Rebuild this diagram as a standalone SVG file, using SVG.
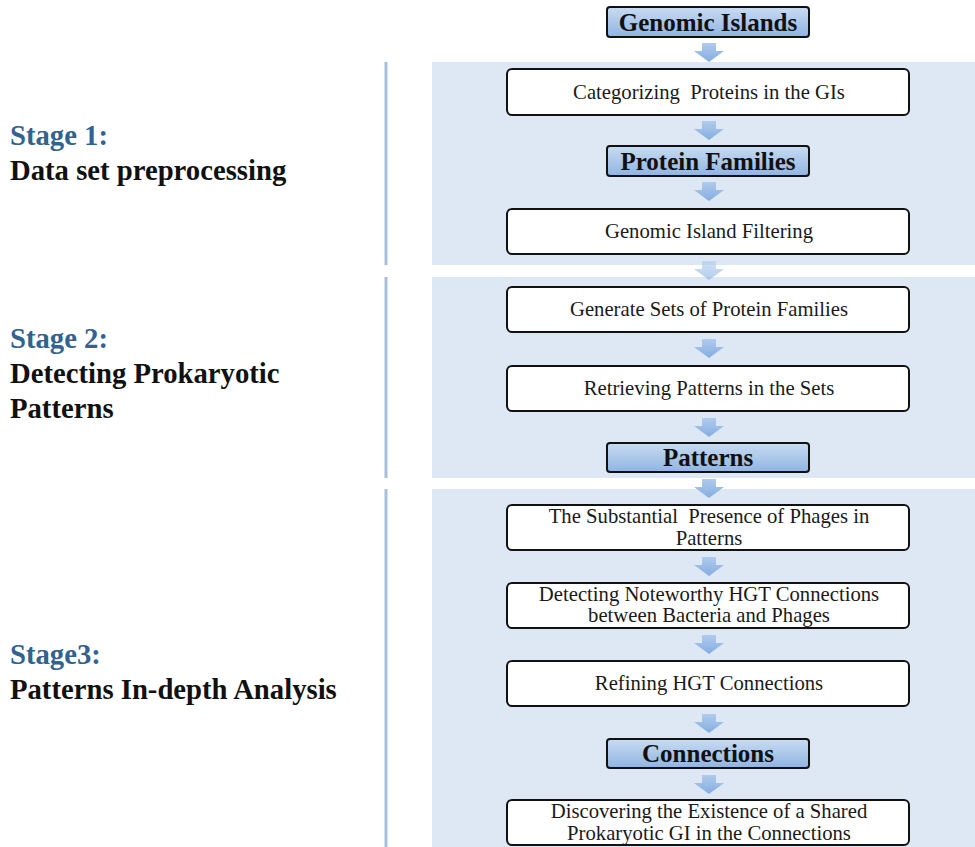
<svg xmlns="http://www.w3.org/2000/svg" width="975" height="847" viewBox="0 0 975 847">
<defs>
<linearGradient id="gB" x1="0" y1="0" x2="0" y2="1">
<stop offset="0" stop-color="#c9dcf2"/>
<stop offset="1" stop-color="#8fb4e2"/>
</linearGradient>
<linearGradient id="gA" x1="0" y1="0" x2="0" y2="1">
<stop offset="0" stop-color="#b0cbee"/>
<stop offset="1" stop-color="#84ade0"/>
</linearGradient>
<path id="arr" d="M-7,0 H7 V8 H15 L0,19 L-15,8 H-7 Z"/>
</defs>
<style>
.panel{fill:#dde8f4}
.vline{stroke:#a8bfdc;stroke-width:3}
.box{fill:#fff;stroke:#111;stroke-width:2}
.hbox{fill:url(#gB);stroke:#111;stroke-width:2}
.t{font-family:"Liberation Serif","Times New Roman",serif;font-size:20.7px;fill:#1a1a1a;text-anchor:middle;white-space:pre}
.ht{font-family:"Liberation Serif","Times New Roman",serif;font-size:25px;font-weight:bold;fill:#111;text-anchor:middle}
.st{font-family:"Liberation Serif","Times New Roman",serif;font-size:28.7px;font-weight:bold;fill:#33628f}
.sd{font-family:"Liberation Serif","Times New Roman",serif;font-size:28.7px;font-weight:bold;fill:#111}
.a{fill:url(#gA)}
</style>
<rect width="975" height="847" fill="#fff"/>
<g id="panels">
<rect class="panel" x="432" y="62" width="543" height="203"/>
<rect class="panel" x="432" y="277" width="543" height="201"/>
<rect class="panel" x="432" y="489" width="543" height="358"/>
<line class="vline" x1="386" y1="62" x2="386" y2="265"/>
<line class="vline" x1="386" y1="277" x2="386" y2="478"/>
<line class="vline" x1="386" y1="489" x2="386" y2="847"/>
</g>
<g id="stages">
<text class="st" x="10" y="145">Stage 1:</text>
<text class="sd" x="10" y="180">Data set preprocessing</text>
<text class="st" x="10" y="348">Stage 2:</text>
<text class="sd" x="10" y="383">Detecting Prokaryotic</text>
<text class="sd" x="10" y="418">Patterns</text>
<text class="st" x="10" y="664">Stage3:</text>
<text class="sd" x="10" y="699">Patterns In-depth Analysis</text>
</g>
<g id="connectors">
<use href="#arr" class="a" x="709" y="43"/>
<use href="#arr" class="a" x="709" y="121"/>
<use href="#arr" class="a" x="709" y="182"/>
<use href="#arr" class="a" x="709" y="261" opacity="0.6"/>
<use href="#arr" class="a" x="709" y="339"/>
<use href="#arr" class="a" x="709" y="418"/>
<use href="#arr" class="a" x="709" y="479"/>
<use href="#arr" class="a" x="709" y="557"/>
<use href="#arr" class="a" x="709" y="635"/>
<use href="#arr" class="a" x="709" y="714"/>
<use href="#arr" class="a" x="709" y="775"/>
</g>
<g id="n1"><rect class="hbox" x="607" y="7" width="202" height="30" rx="3"/><text class="ht" x="708" y="31">Genomic Islands</text></g>
<g id="n2"><rect class="box" x="507" y="69" width="402" height="46" rx="5"/><text class="t" x="709" y="99">Categorizing  Proteins in the GIs</text></g>
<g id="n3"><rect class="hbox" x="607" y="146" width="202" height="30" rx="3"/><text class="ht" x="708" y="170">Protein Families</text></g>
<g id="n4"><rect class="box" x="507" y="209" width="402" height="45" rx="5"/><text class="t" x="709" y="238">Genomic Island Filtering</text></g>
<g id="n5"><rect class="box" x="507" y="287" width="402" height="45" rx="5"/><text class="t" x="709" y="316">Generate Sets of Protein Families</text></g>
<g id="n6"><rect class="box" x="507" y="366" width="402" height="45" rx="5"/><text class="t" x="709" y="395">Retrieving Patterns in the Sets</text></g>
<g id="n7"><rect class="hbox" x="607" y="443" width="202" height="29" rx="3"/><text class="ht" x="708" y="466">Patterns</text></g>
<g id="n8"><rect class="box" x="507" y="505" width="402" height="45" rx="5"/><text class="t" x="709" y="523">The Substantial  Presence of Phages in</text><text class="t" x="709" y="545">Patterns</text></g>
<g id="n9"><rect class="box" x="507" y="583" width="402" height="45" rx="5"/><text class="t" x="709" y="601">Detecting Noteworthy HGT Connections</text><text class="t" x="709" y="622">between Bacteria and Phages</text></g>
<g id="n10"><rect class="box" x="507" y="661" width="402" height="45" rx="5"/><text class="t" x="709" y="690">Refining HGT Connections</text></g>
<g id="n11"><rect class="hbox" x="607" y="739" width="202" height="29" rx="3"/><text class="ht" x="708" y="762">Connections</text></g>
<g id="n12"><rect class="box" x="507" y="800" width="402" height="45" rx="5"/><text class="t" x="709" y="818">Discovering the Existence of a Shared</text><text class="t" x="709" y="840">Prokaryotic GI in the Connections</text></g>
</svg>
